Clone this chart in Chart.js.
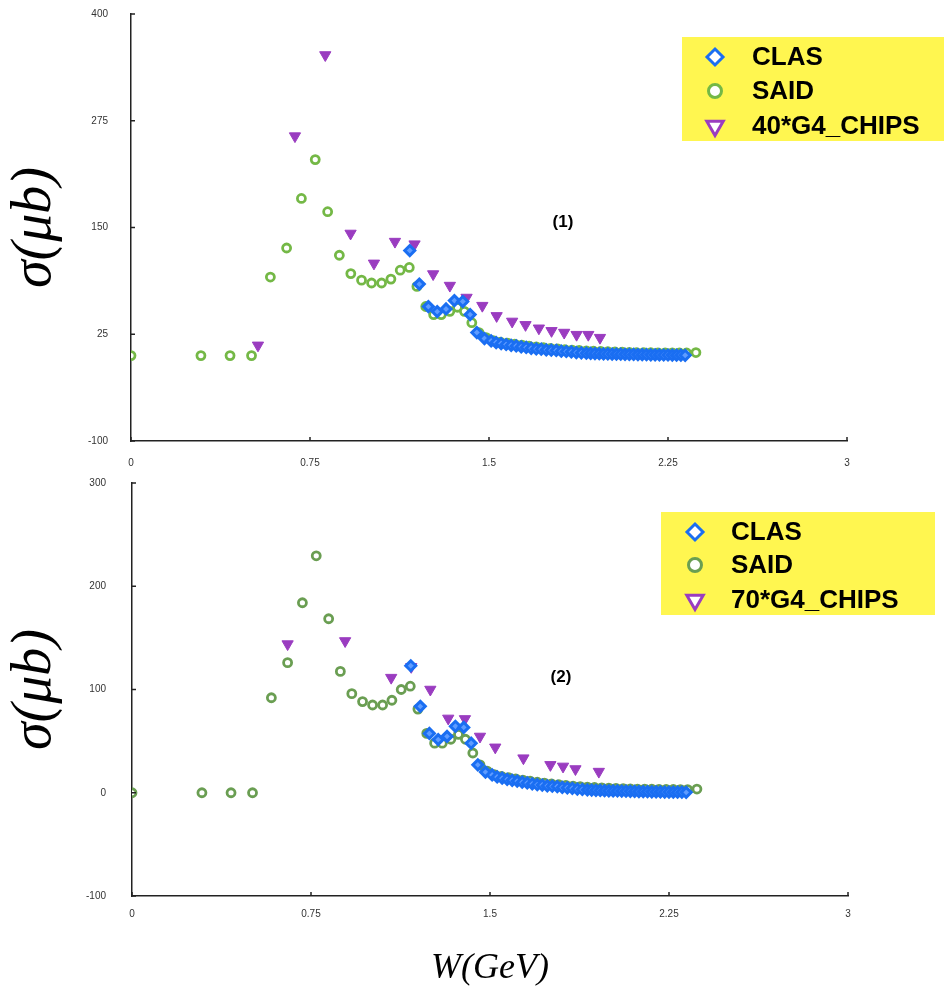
<!DOCTYPE html>
<html>
<head>
<meta charset="utf-8">
<script src="https://cdn.jsdelivr.net/npm/chart.js@4.4.0/dist/chart.umd.min.js"></script>
<style>
  body { margin: 0; background: #fff; }
  .wrap { position: relative; width: 945px; height: 991px; }
  canvas { position: absolute; left: 0; }
</style>
</head>
<body>
<div class="wrap">
  <canvas id="chartTop" width="945" height="470" style="top:0"></canvas>
  <canvas id="chartBottom" width="945" height="521" style="top:470px"></canvas>
</div>
<script>
  // SAID (same in both panels)
  const saidW = [0, 0.293, 0.415, 0.505, 0.584, 0.652, 0.714, 0.772, 0.824, 0.873, 0.921, 0.966,
    1.008, 1.05, 1.089, 1.128, 1.166, 1.198, 1.235, 1.268, 1.30, 1.336, 1.368, 1.397, 1.428,
    1.458, 1.488, 1.518, 1.548, 1.578, 1.608, 1.638, 1.668, 1.698, 1.728, 1.758, 1.788, 1.818,
    1.848, 1.878, 1.908, 1.938, 1.968, 1.998, 2.028, 2.058, 2.088, 2.118, 2.148, 2.178, 2.208,
    2.238, 2.268, 2.298, 2.328, 2.367];
  const saidXs = [0, 0, 0, 0, 92, 126, 184, 229.5, 168.5, 117.5, 96, 88.3,
    85, 85, 89.6, 100, 103.2, 81, 57.5, 48, 48, 51.8, 56.6, 51.8, 38.5,
    27, 21, 17.5, 15.8, 14.6, 13.4, 12.3, 11.2, 10.2, 9.3, 8.5, 7.8, 7.1,
    6.5, 6.0, 5.5, 5.1, 4.8, 4.5, 4.2, 4.0, 3.8, 3.6, 3.5, 3.4, 3.3,
    3.2, 3.2, 3.1, 3.1, 3.6];

  // CLAS (same in both panels)
  const clasW = [1.168, 1.208, 1.246, 1.283, 1.32, 1.355, 1.39, 1.421, 1.449, 1.481, 1.509, 1.53,
    1.551, 1.572, 1.593, 1.614, 1.635, 1.656, 1.677, 1.698, 1.719, 1.74, 1.761, 1.782, 1.803,
    1.824, 1.845, 1.866, 1.887, 1.908, 1.926, 1.944, 1.962, 1.98, 1.998, 2.016, 2.034, 2.052,
    2.07, 2.088, 2.106, 2.124, 2.142, 2.16, 2.178, 2.196, 2.214, 2.232, 2.25, 2.268, 2.286,
    2.304, 2.322];
  const clasXs = [123, 83.7, 57.4, 51.5, 54.6, 64.4, 63.3, 48, 27, 20, 17.2, 15.3,
    14.1, 13, 12.1, 11.3, 10.2, 9.5, 8.6, 7.8, 7.5, 6.7, 6.3, 6.0, 5.1,
    4.8, 4.3, 3.6, 3.2, 2.8, 2.6, 2.4, 2.2, 2.0, 1.9, 1.8, 1.7, 1.6,
    1.5, 1.4, 1.3, 1.2, 1.1, 1.0, 0.9, 0.9, 0.8, 0.7, 0.7, 0.6, 0.5,
    0.5, 0.4];

  // 40*G4_CHIPS (panel 1)
  const chips40W = [0.532, 0.687, 0.814, 0.92, 1.018, 1.106, 1.188, 1.266, 1.336, 1.406, 1.472,
    1.532, 1.597, 1.653, 1.709, 1.762, 1.815, 1.867, 1.916, 1.965];
  const chips40Xs = [12, 257, 352, 143, 108, 133.5, 130.5, 95.5, 82, 68, 58.5,
    46.5, 40, 36, 32, 29, 27, 24.5, 24.5, 21];

  // 70*G4_CHIPS (panel 2)
  const chips70W = [0.652, 0.893, 1.086, 1.17, 1.25, 1.325, 1.395, 1.458, 1.522, 1.64, 1.753,
    1.806, 1.858, 1.956];
  const chips70Xs = [144, 147, 111.5, 122, 100, 72, 71.5, 54.5, 44, 33.5, 27, 25.5, 23, 20.5];

  const xTicks = [0, 0.75, 1.5, 2.25, 3];

  const toPts = (xs, ys) => xs.map((x, i) => ({ x: x, y: ys[i] }));

  // inward tick marks + legend box + panel label
  function overlay(cfg) {
    return {
      id: 'overlay',
      afterDraw(chart) {
        const ctx = chart.ctx;
        const a = chart.chartArea;
        const xs = chart.scales.x, ys = chart.scales.y;
        ctx.save();
        ctx.strokeStyle = '#222';
        ctx.lineWidth = 1.5;
        xs.ticks.forEach(t => {
          const px = xs.getPixelForValue(t.value);
          ctx.beginPath(); ctx.moveTo(px, a.bottom); ctx.lineTo(px, a.bottom - 4); ctx.stroke();
        });
        ys.ticks.forEach(t => {
          const py = ys.getPixelForValue(t.value);
          ctx.beginPath(); ctx.moveTo(a.left, py); ctx.lineTo(a.left + 4, py); ctx.stroke();
        });

        // legend
        const L = cfg.legend;
        ctx.fillStyle = '#fff650';
        ctx.fillRect(L.x, L.y, L.w, L.h);
        ctx.font = 'bold 26px "Liberation Sans", Arial, sans-serif';
        ctx.textBaseline = 'middle';
        ctx.textAlign = 'left';
        L.items.forEach((it, i) => {
          const cy = L.rowY[i];
          const mx = L.markX;
          ctx.beginPath();
          if (it.shape === 'diamond') {
            const r = 8;
            ctx.moveTo(mx, cy - r); ctx.lineTo(mx + r, cy); ctx.lineTo(mx, cy + r); ctx.lineTo(mx - r, cy);
            ctx.closePath();
          } else if (it.shape === 'circle') {
            ctx.arc(mx, cy, 6.5, 0, Math.PI * 2);
          } else {
            const r = 9.5;
            ctx.moveTo(mx - r * 0.866, cy - r * 0.5); ctx.lineTo(mx + r * 0.866, cy - r * 0.5);
            ctx.lineTo(mx, cy + r); ctx.closePath();
          }
          ctx.fillStyle = '#fff';
          ctx.fill();
          ctx.lineWidth = 3;
          ctx.strokeStyle = it.color;
          ctx.stroke();
          ctx.fillStyle = '#000';
          ctx.fillText(it.text, L.textX, cy + 1);
        });

        // panel label
        ctx.font = 'bold 17px "Liberation Sans", Arial, sans-serif';
        ctx.textAlign = 'center';
        ctx.fillStyle = '#000';
        ctx.fillText(cfg.label.text, cfg.label.x, cfg.label.y);
        ctx.restore();
      }
    };
  }

  function makeChart(id, o) {
    return new Chart(document.getElementById(id).getContext('2d'), {
      type: 'scatter',
      data: {
        datasets: [
          {
            label: 'CLAS', data: toPts(clasW, clasXs),
            pointStyle: 'rectRot', pointRadius: 5, pointBorderWidth: 3,
            borderColor: '#1a6ef2', backgroundColor: '#5f9cff'
          },
          {
            label: o.chipsLabel, data: toPts(o.chipsW, o.chipsXs),
            pointStyle: 'triangle', pointRotation: 180, pointRadius: 6.5, pointBorderWidth: 1,
            borderColor: '#9a3cc0', backgroundColor: '#9a3cc0'
          },
          {
            label: 'SAID', data: toPts(saidW, saidXs),
            pointStyle: 'circle', pointRadius: 4, pointBorderWidth: 2.8,
            borderColor: o.green, backgroundColor: '#fff'
          }
        ]
      },
      options: {
        responsive: false,
        animation: false,
        layout: { padding: { top: o.padTop, right: o.padRight, left: 0, bottom: 0 } },
        plugins: { legend: { display: false }, tooltip: { enabled: false } },
        scales: {
          x: {
            type: 'linear', min: 0, max: 3,
            afterBuildTicks: s => { s.ticks = xTicks.map(v => ({ value: v })); },
            afterFit: s => { s.height = o.xHeight; },
            grid: { display: true, drawOnChartArea: false, drawTicks: true, tickLength: o.xPad, tickColor: 'rgba(0,0,0,0)' },
            border: { display: true, color: '#222', width: 1.5 },
            ticks: {
              padding: 0, color: '#333',
              font: { family: 'Liberation Sans', size: 10 },
              callback: v => String(Math.round(v * 100) / 100)
            },
            title: o.xTitle ? {
              display: true, text: 'W(GeV)', color: '#000',
              font: { family: 'Liberation Serif', size: 36, style: 'italic' },
              padding: { top: 0, bottom: 1 }
            } : { display: false }
          },
          y: {
            type: 'linear', min: o.yMin, max: o.yMax,
            ticks: {
              stepSize: o.yStep, padding: 0, color: '#333',
              font: { family: 'Liberation Sans', size: 10 }
            },
            afterFit: s => { s.width = o.yWidth; },
            grid: { display: true, drawOnChartArea: false, drawTicks: true, tickLength: o.yPad, tickColor: 'rgba(0,0,0,0)' },
            border: { display: true, color: '#222', width: 1.5 },
            title: {
              display: true, text: 'σ(μb)', color: '#000',
              font: { family: 'Liberation Serif', size: 56, style: 'italic' },
              padding: { top: 2, bottom: 0 }
            }
          }
        }
      },
      plugins: [overlay(o.overlay)]
    });
  }

  makeChart('chartTop', {
    chipsLabel: '40*G4_CHIPS', chipsW: chips40W, chipsXs: chips40Xs, green: '#74b846',
    padTop: 14, padRight: 98, xHeight: 29, yWidth: 131, xPad: 16, yPad: 23,
    yMin: -100, yMax: 400, yStep: 125, xTitle: false,
    overlay: {
      legend: {
        x: 682, y: 37, w: 262, h: 104, markX: 715, textX: 752, rowY: [57, 91, 126],
        items: [
          { shape: 'diamond', color: '#1a6ef2', text: 'CLAS' },
          { shape: 'circle', color: '#74b846', text: 'SAID' },
          { shape: 'triangle', color: '#9a3cc0', text: '40*G4_CHIPS' }
        ]
      },
      label: { text: '(1)', x: 563, y: 222 }
    }
  });

  makeChart('chartBottom', {
    chipsLabel: '70*G4_CHIPS', chipsW: chips70W, chipsXs: chips70Xs, green: '#6a9e52',
    padTop: 13, padRight: 97, xHeight: 95, yWidth: 132, xPad: 12, yPad: 26,
    yMin: -100, yMax: 300, yStep: 100, xTitle: true,
    overlay: {
      legend: {
        x: 661, y: 42, w: 274, h: 103, markX: 695, textX: 731, rowY: [62, 95, 130],
        items: [
          { shape: 'diamond', color: '#1a6ef2', text: 'CLAS' },
          { shape: 'circle', color: '#6a9e52', text: 'SAID' },
          { shape: 'triangle', color: '#9a3cc0', text: '70*G4_CHIPS' }
        ]
      },
      label: { text: '(2)', x: 561, y: 207 }
    }
  });
</script>
</body>
</html>
